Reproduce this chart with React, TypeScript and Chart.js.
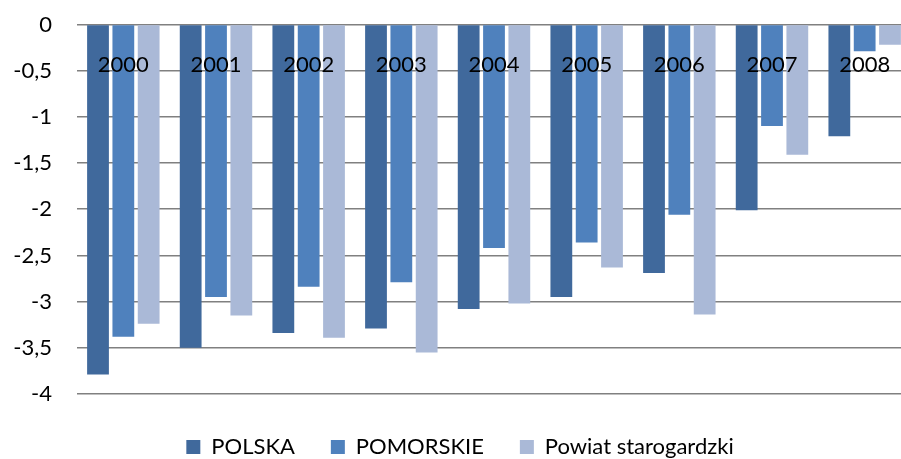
import React, { useEffect, useRef } from "react";
import { Chart, registerables } from "chart.js";

Chart.register(...registerables);

const years = ["2000", "2001", "2002", "2003", "2004", "2005", "2006", "2007", "2008"];
const polska = [-3.79, -3.5, -3.34, -3.29, -3.08, -2.95, -2.69, -2.01, -1.21];
const pomorskie = [-3.38, -2.95, -2.84, -2.79, -2.42, -2.36, -2.06, -1.1, -0.29];
const powiat = [-3.24, -3.15, -3.39, -3.55, -3.02, -2.63, -3.14, -1.41, -0.22];
const seriesNames = ["POLSKA", "POMORSKIE", "Powiat starogardzki"];
const seriesColors = ["#40699C", "#4F81BD", "#AAB9D7"];

const FONT = "Lato";

export default function App() {
  const ref = useRef<HTMLCanvasElement>(null);
  useEffect(() => {
    if (!ref.current) return;
    const values = [polska, pomorskie, powiat];
    const chart = new Chart(ref.current, {
      type: "bar",
      data: {
        labels: years,
        datasets: values.map((v, i) => ({
          label: seriesNames[i],
          data: v,
          backgroundColor: seriesColors[i],
          borderWidth: 0,
          categoryPercentage: 0.82,
          barPercentage: 0.86,
        })),
      },
      options: {
        animation: false,
        responsive: false,
        devicePixelRatio: 1,
        layout: { padding: { top: 24.5, left: 0, right: 0, bottom: 0 } },
        plugins: {
          tooltip: { enabled: false },
          legend: {
            position: "bottom",
            labels: {
              boxWidth: 14,
              boxHeight: 14,
              padding: 36,
              color: "#000",
              font: { family: FONT, size: 22 },
            },
          },
        },
        scales: {
          x: {
            type: "category",
            position: { y: 0 } as any,
            grid: { display: false, drawTicks: false },
            border: { display: false },
            ticks: {
              z: 1,
              color: "#000",
              padding: 27,
              maxRotation: 0,
              autoSkip: false,
              font: { family: FONT, size: 22 },
            },
          },
          y: {
            type: "linear",
            position: "left",
            min: -4,
            max: 0,
            grid: {
              color: "#808080",
              lineWidth: 1.6,
              drawTicks: true,
              tickLength: 25,
              tickColor: "rgba(0,0,0,0)",
            },
            border: { display: false },
            ticks: {
              stepSize: 0.5,
              color: "#000",
              padding: 0,
              font: { family: FONT, size: 22 },
              callback: (v: any) => String(v).replace(".", ","),
            },
            afterFit: (s: any) => {
              s.width = 77;
            },
          },
          ypad: {
            type: "linear",
            position: "right",
            display: true,
            grid: { display: false, drawTicks: false },
            border: { display: false },
            ticks: { display: false },
            afterFit: (s: any) => {
              s.width = 9;
            },
          },
          xpad: {
            type: "linear",
            position: "bottom",
            display: true,
            grid: { display: false, drawTicks: false },
            border: { display: false },
            ticks: { display: false },
            afterFit: (s: any) => {
              s.height = 6;
            },
          },
        },
      },
    });
    return () => chart.destroy();
  }, []);
  return (
    <div
      style={{
        position: "fixed",
        left: 0,
        top: 0,
        width: 901,
        height: 459,
        overflow: "hidden",
        background: "#fff",
      }}
    >
      <canvas ref={ref} width={920} height={468} style={{ width: 920, height: 468, display: "block" }} />
    </div>
  );
}
